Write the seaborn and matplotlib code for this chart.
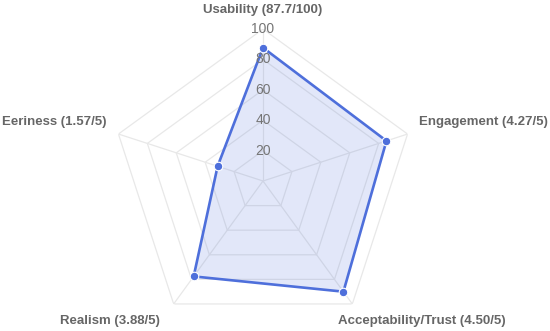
import numpy as np
import pandas as pd
import matplotlib
matplotlib.use("Agg")
import matplotlib.pyplot as plt
import seaborn as sns

categories = ["Usability (87.7/100)", "Engagement (4.27/5)", "Acceptability/Trust (4.50/5)",
              "Realism (3.88/5)", "Eeriness (1.57/5)"]
values = [87.7, 85.4, 90.0, 77.6, 31.4]   # normalised to 0-100
ticks = [20, 40, 60, 80, 100]

sns.set_theme(style="white")
plt.rcParams['font.family'] = ['Liberation Sans', 'DejaVu Sans']

W, H = 550, 331
fig = plt.figure(figsize=(W / 100, H / 100), dpi=100)
cx, cy, R = 263, 181, 152
ax = fig.add_axes([(cx - R) / W, (H - cy - R) / H, 2 * R / W, 2 * R / H], projection='polar')
ax.set_theta_offset(np.pi / 2)
ax.set_theta_direction(-1)
ax.set_ylim(0, 100)
ax.grid(False)
ax.spines['polar'].set_visible(False)
ax.set_xticks([])
ax.set_yticks([])
ax.patch.set_alpha(0)

n = len(categories)
angles = np.linspace(0, 2 * np.pi, n, endpoint=False)
grid_c = '#e8e8e8'
for t in ticks:
    ax.plot(np.append(angles, angles[0]), [t] * (n + 1), color=grid_c, lw=0.9, zorder=1)
for a in angles:
    ax.plot([a, a], [0, 100], color=grid_c, lw=0.9, zorder=1)

line_c = '#4e6fdb'
df = pd.DataFrame({"theta": np.append(angles, angles[0]), "r": values + [values[0]]})
ax.fill(df["theta"], df["r"], color=line_c, alpha=0.16, lw=0, zorder=2)
sns.lineplot(data=df, x="theta", y="r", sort=False, estimator=None, ax=ax,
             color=line_c, lw=1.9, zorder=3)
sns.scatterplot(x=angles, y=values, ax=ax, color=line_c, s=38, edgecolor='white',
                linewidth=0.8, zorder=4)
ax.set_xlabel("")
ax.set_ylabel("")
ax.set_ylim(0, 100)

for t in ticks:
    ax.text(0, t, str(t), ha='center', va='center', fontsize=10, color='#757575', zorder=5)

def fx(x):
    return x / W

def fy(y):
    return 1 - y / H

lab_c = '#666666'
kw = dict(fontsize=9.5, fontweight='bold', color=lab_c, va='center')
fig.text(fx(263), fy(10), categories[0], ha='center', **kw)
fig.text(fx(419), fy(122), categories[1], ha='left', **kw)
fig.text(fx(422), fy(321), categories[2], ha='center', **kw)
fig.text(fx(110), fy(321), categories[3], ha='center', **kw)
fig.text(fx(107), fy(122), categories[4], ha='right', **kw)

fig.savefig("out.png", dpi=100)
